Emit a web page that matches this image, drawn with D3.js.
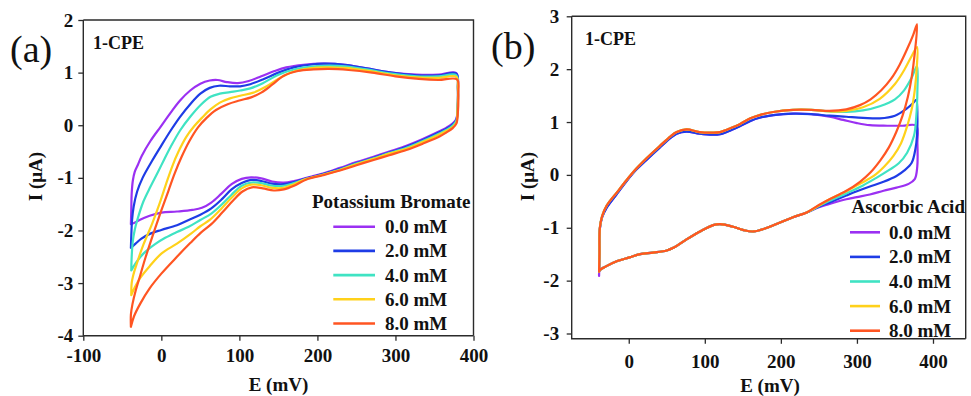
<!DOCTYPE html>
<html>
<head>
<meta charset="utf-8">
<script src="https://cdn.jsdelivr.net/npm/d3@7"></script>
<style>
  body { margin: 0; background: #fff; }
  svg { display: block; }
  text { font-family: "Liberation Serif", "Times New Roman", serif; }
</style>
</head>
<body>
<svg id="chart" width="971" height="396"></svg>
<script>
// ---- shared labels & colours ----
const concentrations = ["0.0 mM", "2.0 mM", "4.0 mM", "6.0 mM", "8.0 mM"];
const seriesColors = ["#9b30f2", "#1e3ce6", "#3fe3c3", "#ffd11a", "#ff5522"];

// ---- panel (a): CV loops [E (mV), I (µA)] with potassium bromate ----
const bromate0 = [[-39,-1.88],[-38.5,-1.6],[-38,-1.3],[-36.5,-1.05],[-34,-0.88],[-30,-0.75],[-25,-0.58],[-14,-0.3],[-1,-0.03],[12,0.24],[24,0.47],[37,0.66],[50,0.79],[62,0.85],[72,0.86],[84,0.82],[98,0.8],[112,0.84],[128,0.93],[145,1.03],[160,1.1],[182,1.15],[208,1.17],[235,1.15],[263,1.08],[295,1.0],[327,0.96],[355,0.96],[378,0.99],
  [380,0.7],[379.5,0.3],[378,0.12],[373,0.03],[365,-0.05],[357,-0.11],[335,-0.26],[314,-0.39],[292,-0.5],[272,-0.6],[250,-0.7],[229,-0.81],[207,-0.92],[186,-1.0],[170,-1.06],[157,-1.09],[142,-1.07],[128,-1.01],[115,-0.99],[103,-1.02],[90,-1.12],[77,-1.3],[64,-1.47],[52,-1.57],[40,-1.61],[20,-1.64],[0,-1.66],[-15,-1.72],[-28,-1.8],[-35,-1.86],[-39,-1.88]];
const bromate2 = [[-39,-2.33],[-38.5,-2.1],[-37.5,-1.8],[-35.5,-1.55],[-31,-1.26],[-24,-1.0],[-12,-0.68],[-1,-0.41],[12,-0.1],[24,0.16],[37,0.4],[50,0.6],[62,0.71],[74,0.75],[88,0.74],[101,0.74],[114,0.78],[130,0.87],[150,1.0],[170,1.1],[190,1.15],[208,1.17],[235,1.15],[263,1.08],[295,1.0],[327,0.95],[355,0.95],[378,0.98],
  [380,0.7],[379.5,0.3],[378,0.1],[373,0.01],[365,-0.07],[357,-0.13],[335,-0.28],[314,-0.41],[292,-0.52],[272,-0.62],[250,-0.72],[229,-0.83],[207,-0.93],[186,-1.01],[170,-1.08],[157,-1.12],[142,-1.11],[128,-1.06],[115,-1.04],[103,-1.1],[90,-1.22],[78,-1.4],[64,-1.58],[50,-1.7],[35,-1.8],[20,-1.9],[0,-1.99],[-14,-2.06],[-26,-2.16],[-33,-2.25],[-39,-2.33]];
const bromate4 = [[-38.5,-2.76],[-38,-2.5],[-36.5,-2.2],[-34,-1.98],[-31,-1.81],[-23,-1.45],[-14,-1.17],[-4,-0.88],[3,-0.67],[12,-0.41],[24,-0.1],[37,0.16],[50,0.38],[63,0.54],[75,0.6],[88,0.63],[101,0.66],[114,0.7],[130,0.8],[150,0.96],[170,1.06],[190,1.11],[208,1.13],[235,1.12],[263,1.06],[295,0.98],[327,0.93],[355,0.93],[378,0.95],
  [380,0.7],[379.5,0.3],[378,0.08],[373,-0.01],[365,-0.09],[357,-0.15],[335,-0.3],[314,-0.43],[292,-0.53],[272,-0.63],[250,-0.73],[229,-0.84],[207,-0.94],[186,-1.02],[170,-1.1],[157,-1.15],[142,-1.15],[128,-1.1],[115,-1.09],[103,-1.15],[90,-1.32],[80,-1.47],[64,-1.68],[50,-1.8],[35,-1.93],[20,-2.03],[5,-2.14],[-8,-2.26],[-23,-2.44],[-32,-2.6],[-38.5,-2.76]];
const bromate6 = [[-38.5,-3.23],[-38,-3.0],[-36,-2.85],[-33,-2.7],[-23,-2.27],[-12,-1.88],[-3,-1.52],[6,-1.12],[14,-0.78],[22,-0.5],[32,-0.22],[42,-0.02],[52,0.14],[63,0.3],[75,0.43],[88,0.51],[101,0.56],[118,0.62],[135,0.74],[152,0.9],[170,1.02],[190,1.08],[208,1.1],[235,1.09],[263,1.04],[295,0.96],[327,0.91],[355,0.9],[378,0.92],
  [380,0.7],[379.5,0.3],[378,0.05],[373,-0.04],[365,-0.11],[357,-0.17],[335,-0.32],[314,-0.45],[292,-0.54],[272,-0.64],[250,-0.74],[229,-0.85],[207,-0.94],[186,-1.02],[170,-1.12],[157,-1.19],[142,-1.19],[128,-1.14],[115,-1.13],[103,-1.2],[90,-1.38],[76,-1.6],[62,-1.8],[50,-1.92],[38,-2.06],[20,-2.25],[0,-2.44],[-15,-2.68],[-27,-2.9],[-34,-3.08],[-38.5,-3.23]];
const bromate8 = [[-39,-3.83],[-39,-3.6],[-37,-3.4],[-33,-3.15],[-27,-2.85],[-20,-2.5],[-10,-2.05],[0,-1.62],[9,-1.25],[17,-0.92],[26,-0.6],[36,-0.3],[47,-0.04],[58,0.14],[70,0.29],[85,0.4],[100,0.47],[115,0.53],[128,0.62],[142,0.77],[157,0.94],[175,1.03],[195,1.06],[215,1.07],[240,1.05],[270,1.0],[300,0.93],[330,0.88],[355,0.86],[379,0.87],
  [380.5,0.6],[380,0.25],[378,0.03],[373,-0.06],[365,-0.14],[357,-0.21],[335,-0.35],[314,-0.47],[292,-0.57],[272,-0.66],[250,-0.76],[229,-0.86],[207,-0.95],[186,-1.03],[170,-1.15],[157,-1.22],[144,-1.24],[130,-1.2],[116,-1.18],[104,-1.26],[92,-1.43],[78,-1.66],[64,-1.88],[50,-2.05],[37,-2.24],[20,-2.5],[0,-2.82],[-15,-3.1],[-27,-3.39],[-35,-3.63],[-39,-3.83]];

// ---- panel (b): CV loops with ascorbic acid ----
// anodic sweep below 240 mV, nearly identical for all concentrations
const ascorbicUpperLow = [[-38.5,-1.5],[-38,-1.02],[-35,-0.8],[-29,-0.62],[-15,-0.35],[-3,-0.12],[10,0.1],[23,0.28],[41,0.52],[55,0.7],[63,0.78],[76,0.82],[93,0.78],[110,0.76],[120,0.77],[135,0.85],[146,0.92],[160,1.02],[172,1.08],[190,1.13],[216,1.16],[240,1.15]];
const ascorbicUpperHigh = [[-38.5,-1.5],[-38,-1.0],[-35,-0.78],[-29,-0.58],[-15,-0.32],[-3,-0.1],[10,0.12],[23,0.31],[41,0.55],[55,0.73],[63,0.81],[76,0.86],[93,0.81],[110,0.8],[120,0.81],[135,0.89],[146,0.96],[160,1.07],[172,1.13],[190,1.19],[216,1.23],[240,1.23]];
// cathodic sweep below 234 mV, shared by all concentrations
const ascorbicLower = [[234,-0.71],[216,-0.8],[199,-0.9],[182,-1.0],[164,-1.07],[150,-1.04],[137,-0.98],[120,-0.93],[111,-0.95],[95,-1.06],[76,-1.22],[60,-1.37],[50,-1.43],[32,-1.47],[15,-1.5],[1,-1.56],[-15,-1.63],[-30,-1.73],[-38,-1.8]];
// high-potential part of each loop (anodic end + return)
const ascorbicTail0 = [[264,1.1],[282,1.04],[300,0.98],[317,0.94],[340,0.93],[360,0.93],[378,0.93],[379.5,0.6],[379.3,0.15],[376,-0.08],[368,-0.17],[352,-0.24],[335,-0.3],[317,-0.37],[300,-0.42],[286,-0.46],[264,-0.55],[250,-0.61]];
const ascorbicTail2 = [[264,1.12],[286,1.1],[308,1.08],[330,1.07],[350,1.12],[365,1.25],[374,1.36],[378,1.42],[379.5,1.1],[379,0.75],[377,0.5],[372,0.23],[362,0.08],[352,-0.02],[335,-0.13],[317,-0.22],[300,-0.31],[286,-0.39],[264,-0.52],[250,-0.6]];
const ascorbicTail4 = [[264,1.2],[286,1.19],[308,1.22],[330,1.3],[350,1.43],[362,1.6],[372,1.84],[379,2.06],[379.5,1.6],[378,1.1],[375,0.74],[366,0.42],[355,0.22],[343,0.1],[325,-0.06],[308,-0.2],[286,-0.35],[264,-0.49],[250,-0.59]];
const ascorbicTail6 = [[264,1.2],[286,1.21],[308,1.28],[330,1.44],[350,1.72],[362,1.98],[372,2.25],[379,2.42],[378.5,2.0],[376,1.6],[372,1.24],[366,0.92],[358,0.6],[348,0.36],[336,0.16],[322,-0.02],[305,-0.16],[286,-0.31],[264,-0.46],[250,-0.58]];
const ascorbicTail8 = [[264,1.21],[286,1.24],[304,1.32],[318,1.43],[332,1.6],[345,1.82],[356,2.08],[366,2.38],[374,2.65],[379,2.85],[376,2.3],[372,1.85],[367,1.48],[360,1.12],[352,0.82],[342,0.52],[331,0.28],[318,0.05],[304,-0.13],[285,-0.31],[264,-0.46],[250,-0.57]];
const ascorbicStart0 = [-39,-1.91];
const ascorbicStart = [-39,-1.83];

const ascorbic0 = [ascorbicStart0, ...ascorbicUpperLow, ...ascorbicTail0, ...ascorbicLower, ascorbicStart0];
const ascorbic2 = [ascorbicStart, ...ascorbicUpperLow, ...ascorbicTail2, ...ascorbicLower, ascorbicStart];
const ascorbic4 = [ascorbicStart, ...ascorbicUpperHigh, ...ascorbicTail4, ...ascorbicLower, ascorbicStart];
const ascorbic6 = [ascorbicStart, ...ascorbicUpperHigh, ...ascorbicTail6, ...ascorbicLower, ascorbicStart];
const ascorbic8 = [ascorbicStart, ...ascorbicUpperHigh, ...ascorbicTail8, ...ascorbicLower, ascorbicStart];

// ---- axis ticks ----
const aXTicks = [-100, 0, 100, 200, 300, 400];
const aXMinor = [-50, 50, 150, 250, 350];
const aYTicks = [-4, -3, -2, -1, 0, 1, 2];
const aYMinor = [-3.5, -2.5, -1.5, -0.5, 0.5, 1.5];
const bXTicks = [0, 100, 200, 300, 400];
const bXMinor = [-50, 50, 150, 250, 350];
const bYTicks = [-3, -2, -1, 0, 1, 2, 3];
const bYMinor = [-2.5, -1.5, -0.5, 0.5, 1.5, 2.5];

const svg = d3.select("#chart");
svg.append("rect").attr("width", 971).attr("height", 396).attr("fill", "#fff");

function drawPanel(p) {
  const x = d3.scaleLinear().domain(p.xDomain).range(p.xRange);
  const y = d3.scaleLinear().domain(p.yDomain).range(p.yRange);
  const g = svg.append("g");
  const x0 = p.xRange[0], x1 = p.xRange[1];
  const yTop = y(p.yFrame[1]), yBot = y(p.yFrame[0]);

  // curves
  const line = d3.line().x(d => x(d[0])).y(d => y(d[1])).curve(d3.curveCatmullRom.alpha(0.5));
  p.series.forEach((s, i) => {
    g.append("path").attr("d", line(s)).attr("fill", "none")
      .attr("stroke", seriesColors[i]).attr("stroke-width", 2.2)
      .attr("stroke-linejoin", "round").attr("stroke-linecap", "round");
  });

  // frame
  g.append("path")
    .attr("d", `M${x0},${yTop}H${x1}V${yBot}`)
    .attr("fill", "none").attr("stroke", "#2b2b2b").attr("stroke-width", 1.4);

  const fmt = d => String(d);
  // bottom axis
  const bx = g.append("g").attr("transform", `translate(0,${yBot})`);
  bx.call(d3.axisBottom(x).tickValues(p.xMinor).tickSize(5).tickFormat(""));
  bx.call(d3.axisBottom(x).tickValues(p.xTicks).tickSize(5).tickPadding(p.xPad).tickSizeOuter(0).tickFormat(fmt));
  // left axis
  const ly = g.append("g").attr("transform", `translate(${x0},0)`);
  ly.call(d3.axisLeft(y).tickValues(p.yMinor).tickSize(5).tickFormat(""));
  ly.call(d3.axisLeft(y).tickValues(p.yTicks).tickSize(5).tickPadding(p.yPad).tickSizeOuter(0).tickFormat(fmt));
  g.selectAll(".domain").remove();
  g.append("path").attr("d", `M${x0},${yTop}V${yBot}H${x1}`)
    .attr("fill", "none").attr("stroke", "#2b2b2b").attr("stroke-width", 1.4);
  g.selectAll(".tick line").attr("stroke", "#2b2b2b").attr("stroke-width", 1.3);
  g.selectAll(".tick text").attr("fill", "#111").attr("font-size", 19).attr("font-weight", "bold")
    .style("font-family", '"Liberation Serif", "Times New Roman", serif');

  // axis titles
  g.append("text").attr("x", p.xTitle[0]).attr("y", p.xTitle[1]).attr("text-anchor", "middle")
    .attr("font-size", 19).attr("font-weight", "bold").attr("fill", "#111").text("E (mV)");
  g.append("text").attr("transform", `translate(${p.yTitle[0]},${p.yTitle[1]}) rotate(-90)`)
    .attr("text-anchor", "middle").attr("font-size", 19).attr("font-weight", "bold").attr("fill", "#111").text("I (μA)");

  // panel letter and electrode label
  g.append("text").attr("x", p.letterPos[0]).attr("y", p.letterPos[1])
    .attr("font-size", 38).attr("fill", "#111").text(p.letter);
  g.append("text").attr("x", p.tagPos[0]).attr("y", p.tagPos[1])
    .attr("font-size", 18).attr("font-weight", "bold").attr("fill", "#111").text("1-CPE");

  // legend
  const L = p.legend;
  g.append("text").attr("x", L.titleX).attr("y", L.titleY).attr("font-size", 19)
    .attr("font-weight", "bold").attr("fill", "#111").text(L.title);
  concentrations.forEach((c, i) => {
    const cy = L.rowY + i * L.step;
    g.append("line").attr("x1", L.lineX[0]).attr("x2", L.lineX[1]).attr("y1", cy).attr("y2", cy)
      .attr("stroke", seriesColors[i]).attr("stroke-width", 2.6);
    g.append("text").attr("x", L.textX).attr("y", cy + 6.5).attr("font-size", 19)
      .attr("font-weight", "bold").attr("fill", "#111").text(c);
  });
}

drawPanel({
  xDomain: [-100, 400], xRange: [83.3, 473.5],
  yDomain: [-4, 2], yRange: [335.7, 20], yFrame: [-4, 2],
  xTicks: aXTicks, xMinor: aXMinor, yTicks: aYTicks, yMinor: aYMinor,
  xPad: 7.5, yPad: 5,
  series: [bromate0, bromate2, bromate4, bromate6, bromate8],
  xTitle: [278.5, 391], yTitle: [41.5, 176.5],
  letter: "(a)", letterPos: [10, 62], tagPos: [93, 49],
  legend: { title: "Potassium Bromate", titleX: 312, titleY: 208.3, lineX: [333.3, 375], textX: 385, rowY: 226.7, step: 24.2 }
});

drawPanel({
  xDomain: [-75, 443], xRange: [571.7, 965.7],
  yDomain: [-3, 3], yRange: [333.5, 16.3], yFrame: [-3.1, 3],
  xTicks: bXTicks, xMinor: bXMinor, yTicks: bYTicks, yMinor: bYMinor,
  xPad: 11, yPad: 7.5,
  series: [ascorbic0, ascorbic2, ascorbic4, ascorbic6, ascorbic8],
  xTitle: [770, 392], yTitle: [533.5, 176.5],
  letter: "(b)", letterPos: [491, 58.5], tagPos: [585, 44.5],
  legend: { title: "Ascorbic Acid", titleX: 851.5, titleY: 213.3, lineX: [850, 880], textX: 889, rowY: 232.3, step: 24.6 }
});
</script>
</body>
</html>
